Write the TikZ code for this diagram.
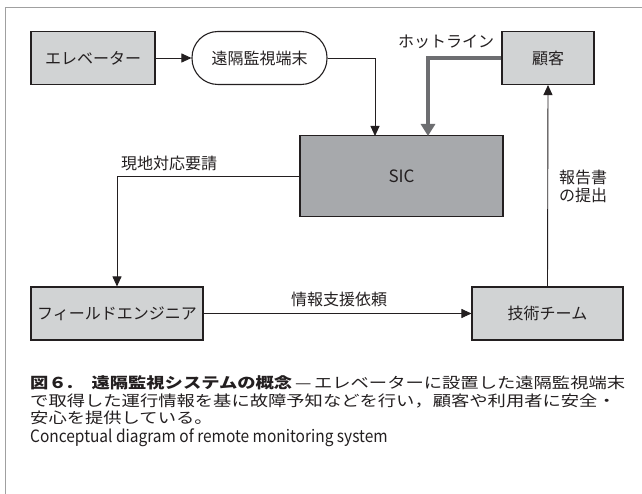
\documentclass[tikz,border=0pt]{standalone}
\usepackage{fontspec}
\setmainfont{Noto Sans CJK JP}
\newfontfamily\capfont[FakeStretch=1.22]{Noto Sans CJK JP}
\newfontfamily\capbold[FakeStretch=1.22]{Noto Sans CJK JP}
\newfontfamily\engfont[FakeStretch=0.91]{Noto Sans CJK JP}
\usetikzlibrary{arrows.meta}
\XeTeXlinebreaklocale "ja"
\XeTeXlinebreakskip=0pt plus 3pt
\definecolor{boxlight}{HTML}{D1D3D4}
\definecolor{boxdark}{HTML}{A7A9AC}
\definecolor{inkc}{HTML}{231F20}
\definecolor{hotgray}{HTML}{6D6E71}
\definecolor{framegray}{HTML}{A0A0A0}
\tikzset{
  lightbox/.style={draw=inkc, line width=1.1pt, fill=boxlight, minimum height=53pt, inner sep=0pt, font=\fontsize{16}{18}\selectfont, text=inkc},
  darkbox/.style={draw=inkc, line width=1.1pt, fill=boxdark, inner sep=0pt, font=\fontsize{17}{19}\selectfont, text=inkc},
  pillbox/.style={draw=inkc, line width=1.1pt, fill=white, rounded corners=26pt, minimum height=53pt, inner sep=0pt, font=\fontsize{16}{18}\selectfont, text=inkc},
  conn/.style={draw=inkc, line width=0.9pt, -{Triangle[length=10pt,width=9pt]}},
  hotconn/.style={draw=hotgray, line width=3.6pt, -{Triangle[length=12pt,width=14pt]}},
  lbl/.style={font=\fontsize{16}{18}\selectfont, text=inkc, inner sep=0pt},
  capline/.style={anchor=west, inner sep=0pt, text=inkc, font=\capfont\fontsize{15}{17}\selectfont},
}
\begin{document}
\begin{tikzpicture}[x=1pt,y=-1pt]
\useasboundingbox (0,0) rectangle (642,494);
\fill[white] (0,0) rectangle (642,494);
\draw[framegray, line width=1pt] (642,7.5) -- (5.5,7.5) -- (5.5,494);

\node[lightbox, minimum width=124pt] (elev) at (93,58) {エレベーター};
\node[pillbox, minimum width=135pt] (term) at (259.5,58) {遠隔監視端末};
\node[darkbox, minimum width=203pt, minimum height=81pt] (sic) at (401.5,176.3) {SIC};
\node[lightbox, minimum width=92pt] (cust) at (548,58) {顧客};
\node[lightbox, minimum width=172pt] (fe) at (117,313.5) {フィールドエンジニア};
\node[lightbox, minimum width=151pt] (tech) at (547.5,313.5) {技術チーム};

\coordinate (t1) at (375,136);
\coordinate (h1) at (428,136);

\draw[conn] (elev) -- (term);
\draw[conn] (term.east) -| (t1);
\draw[hotconn] (cust.west) -| (h1);
\draw[conn] (sic.west) -| (fe.north);
\draw[conn] (fe.east) -- (tech.west);
\draw[conn] (tech.north) -- (cust.south);

\node[lbl] (hotl) at (446,42) {ホットライン};
\node[lbl] (req) at (169,163) {現地対応要請};
\node[lbl] (sup) at (339,299) {情報支援依頼};
\node[lbl, anchor=west, align=left, font=\fontsize{16}{18}\selectfont] (rep) at (559,186) {報告書\\の提出};

\node[capline] (c1) at (30,383) {\makebox[593pt][s]{{\capbold\bfseries 図６.　遠隔監視システムの概念} — エレベーターに設置した遠隔監視端末}};
\node[capline] (c2) at (30,401) {\makebox[593pt][s]{で取得した運行情報を基に故障予知などを行い，顧客や利用者に安全・}};
\node[capline] (c3) at (30,418) {安心を提供している。};
\node[anchor=west, inner sep=0pt, text=inkc, font=\engfont\fontsize{17}{19}\selectfont] (c4) at (30,438) {Conceptual diagram of remote monitoring system};
\end{tikzpicture}
\end{document}
